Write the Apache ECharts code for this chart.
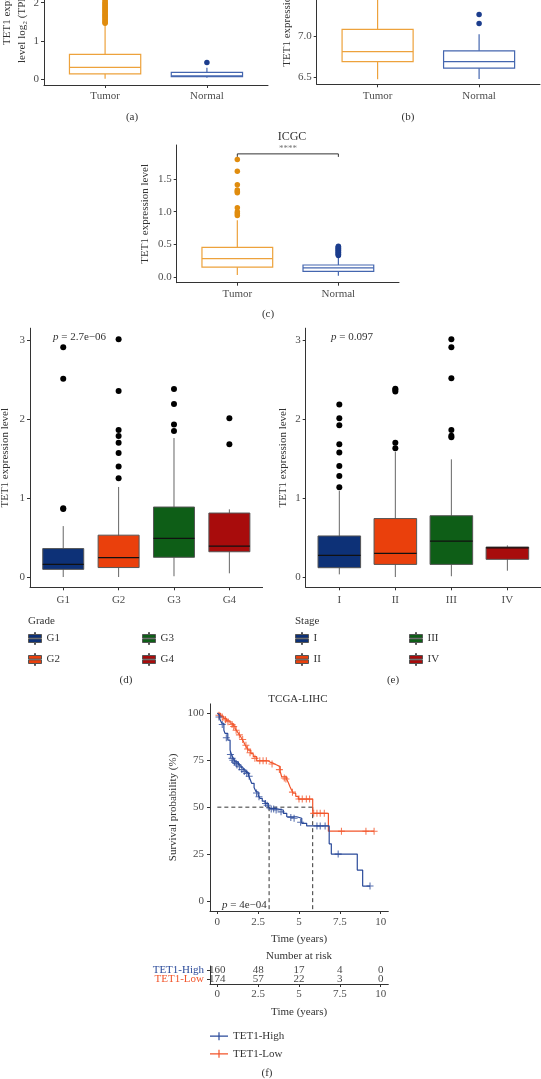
<!DOCTYPE html>
<html><head><meta charset="utf-8">
<script src="https://cdn.jsdelivr.net/npm/echarts@6/dist/echarts.min.js"></script>
<style>html,body{margin:0;padding:0;background:#fff}#c{width:541px;height:1079px}</style>
</head><body><div id="c"></div>
<script>
// ---------------- DATA ----------------
// box stats: [min whisker, Q1, median, Q3, max whisker]
const tnCategories = ['Tumor', 'Normal'];
const aTumor = [0.01, 0.14, 0.31, 0.65, 1.42];
const aNormal = [0.04, 0.07, 0.09, 0.18, 0.30];
const aTumorOut = [1.46, 1.49, 1.52, 1.55, 1.58, 1.61, 1.64, 1.67, 1.70, 1.73, 1.76, 1.79, 1.82, 1.85, 1.88, 1.91, 1.94, 1.97, 2.00, 2.04, 2.08, 2.12, 2.18, 2.25, 2.35, 2.45];
const aNormalOut = [0.44];
const aTicks = [0, 1, 2];

const bTumor = [6.476, 6.69, 6.81, 7.08, 7.58];
const bNormal = [6.48, 6.61, 6.69, 6.82, 7.02];
const bNormalOut = [7.15, 7.26];
const bTicks = [6.5, 7.0, 7.5];

const cTumor = [0.03, 0.15, 0.28, 0.455, 0.87];
const cNormal = [0.02, 0.085, 0.14, 0.184, 0.31];
const cTumorOut = [0.94, 0.97, 1.00, 1.06, 1.29, 1.31, 1.33, 1.41, 1.62, 1.80];
const cNormalOut = [0.33, 0.34, 0.35, 0.36, 0.37, 0.38, 0.39, 0.40, 0.41, 0.42, 0.43, 0.44, 0.45, 0.46, 0.47];
const cTicks = [0, 0.5, 1.0, 1.5];
const cBracket = [1.838, 1.884];

const gradeCats = ['G1', 'G2', 'G3', 'G4'];
const gradeBoxes = [
  [0.0, 0.097, 0.16, 0.36, 0.645],
  [0.0, 0.12, 0.245, 0.53, 1.14],
  [0.01, 0.25, 0.49, 0.886, 1.76],
  [0.047, 0.32, 0.39, 0.81, 0.857]
];
const gradeOut = [
  [0.86, 0.87, 2.51, 2.91],
  [1.25, 1.40, 1.57, 1.70, 1.785, 1.86, 2.355, 3.01],
  [1.85, 1.93, 2.19, 2.38],
  [1.68, 2.01]
];
const stageCats = ['I', 'II', 'III', 'IV'];
const stageBoxes = [
  [0.034, 0.118, 0.275, 0.52, 1.09],
  [0.0, 0.16, 0.30, 0.74, 1.585],
  [0.01, 0.16, 0.455, 0.776, 1.49],
  [0.08, 0.224, 0.37, 0.38, 0.40]
];
const stageOut = [
  [1.135, 1.28, 1.405, 1.575, 1.68, 1.92, 2.01, 2.185],
  [1.63, 1.70, 2.35, 2.37, 2.385],
  [1.77, 1.79, 1.86, 2.515, 2.91, 3.01],
  []
];
const deTicks = [0, 1, 2, 3];

// Kaplan-Meier steps [time (years), survival %]
const kmHigh = [[0,100],[0.06,99],[0.15,97],[0.27,94.7],[0.4,91],[0.47,89.3],[0.64,85.7],[0.78,80.4],[0.88,77.7],[1.0,75.5],[1.08,74.2],[1.29,72.5],[1.45,71],[1.59,69.8],[1.75,68.5],[1.9,67.1],[2.0,65],[2.1,62.7],[2.25,60.5],[2.37,58.2],[2.5,56.5],[2.61,54.7],[2.75,53.2],[2.92,52],[3.12,50.6],[3.17,49.4],[3.5,49],[3.74,48.5],[4.04,46.7],[4.25,44.9],[4.86,44.1],[5.17,41.4],[5.47,40],[6.85,30.5],[6.98,25],[8.57,16.5],[8.9,8],[9.35,8]];
const kmLow = [[0,100],[0.2,98.5],[0.37,97.3],[0.55,96],[0.78,94.7],[0.95,93.3],[1.08,92],[1.2,90.5],[1.29,89.3],[1.4,88],[1.49,86.6],[1.6,85],[1.7,83.1],[1.8,81.8],[1.9,80.4],[2.05,78.5],[2.2,76.9],[2.41,74.7],[3.1,74],[3.23,73.3],[3.45,72.5],[3.64,71.6],[3.85,69],[3.94,66.2],[4.25,64.8],[4.35,63],[4.45,60.9],[4.55,59],[4.65,57.4],[4.8,55.8],[4.96,54.3],[5.84,46.7],[6.8,37.2],[9.6,37.2]];
const kmHighCensor = [[0.1,98],[0.3,94],[0.55,87],[0.8,78],[0.9,76],[0.95,75],[1.05,74],[1.15,73.3],[1.2,72.5],[1.35,71.5],[1.5,70],[1.65,69],[1.8,68],[1.95,66.5],[2.4,57.5],[2.55,55.5],[2.95,52],[3.05,51],[3.3,49],[3.45,49],[3.6,48.5],[3.9,47.5],[4.5,44.5],[4.7,44.1],[5.1,42],[6.1,40],[6.3,40],[6.6,40],[7.4,25],[9.35,8]];
const kmLowCensor = [[0.1,99],[0.3,98],[0.5,96.5],[0.65,95.5],[0.9,94],[1.0,93],[1.15,91],[1.35,88.5],[1.55,86],[1.75,83],[1.85,81],[2.0,79],[2.3,76],[2.6,74.7],[2.8,74.7],[3.0,74.7],[3.35,73],[3.8,70],[4.1,65.5],[4.2,65],[4.6,58],[5.0,54.3],[5.2,54.3],[5.45,54.3],[5.65,54.3],[5.9,46.7],[6.1,46.7],[6.3,46.7],[6.55,46.7],[7.6,37.2],[9.1,37.2],[9.6,37.2]];
const kmMedians = [3.17, 5.84];
const kmTicksX = [0, 2.5, 5, 7.5, 10];
const kmTicksY = [0, 25, 50, 75, 100];
const riskGroups = ['TET1-Low', 'TET1-High'];
const riskTimes = [0, 2.5, 5, 7.5, 10];
const riskHigh = [160, 48, 17, 4, 0];
const riskLow = [174, 57, 22, 3, 0];

// ---------------- STYLE ----------------
const F = 'Liberation Serif';
const TICK = '#4d4d4d', AX = '#333', TXT = '#333';
const ORANGE = '#EDA23C', ORANGE_PT = '#E08C0E';
const BLUE = '#4466AF', BLUE_PT = '#1C3D8D';
const gradeColors = ['#0D3177', '#EA400C', '#0E5E17', '#A80C0C'];
const KM_BLUE = '#2A4A9A', KM_ORANGE = '#F2552B';

function xCat(gi, cats, margin) {
  const vals = cats.map((c, i) => i + 1);
  return {
    type: 'value', gridIndex: gi, min: 0.4, max: cats.length + 0.6,
    axisLine: { show: true, onZero: false, lineStyle: { color: AX, width: 1 } },
    axisTick: { show: true, customValues: vals, length: 3, lineStyle: { color: AX } },
    axisLabel: { customValues: vals, formatter: v => cats[Math.round(v) - 1] || '', color: TICK, fontFamily: F, fontSize: 11, margin: margin },
    splitLine: { show: false }
  };
}
function yVal(gi, min, max, ticks, fmt, name, gap) {
  return {
    type: 'value', gridIndex: gi, min: min, max: max,
    axisLine: { show: true, onZero: false, lineStyle: { color: AX, width: 1 } },
    axisTick: { show: true, customValues: ticks, length: 3, lineStyle: { color: AX } },
    axisLabel: { customValues: ticks, formatter: fmt, color: TICK, fontFamily: F, fontSize: 11, margin: 5 },
    splitLine: { show: false },
    name: name || '', nameLocation: 'middle', nameGap: gap || 20,
    nameTextStyle: { fontFamily: F, fontSize: 11, color: TXT }
  };
}
function boxSeries(name, gi, x, stats, st) {
  return {
    type: 'custom', name: name, xAxisIndex: gi, yAxisIndex: gi, z: 2, silent: true,
    itemStyle: { color: st.fill, borderColor: st.stroke, borderWidth: 1 },
    data: [[x].concat(stats)],
    encode: { x: 0, y: [1, 2, 3, 4, 5] },
    renderItem: function (params, api) {
      const xv = api.value(0);
      const lo = api.coord([xv, api.value(1)]);
      const q1 = api.coord([xv, api.value(2)]);
      const md = api.coord([xv, api.value(3)]);
      const q3 = api.coord([xv, api.value(4)]);
      const hi = api.coord([xv, api.value(5)]);
      const hw = api.size([st.width, 0])[0] / 2;
      return {
        type: 'group', children: [
          { type: 'line', shape: { x1: lo[0], y1: lo[1], x2: hi[0], y2: hi[1] }, style: { stroke: st.whisker, lineWidth: st.lw } },
          { type: 'rect', shape: { x: q3[0] - hw, y: q3[1], width: 2 * hw, height: q1[1] - q3[1] }, style: { fill: st.fill, stroke: st.stroke, lineWidth: st.lw } },
          { type: 'line', shape: { x1: md[0] - hw, y1: md[1], x2: md[0] + hw, y2: md[1] }, style: { stroke: st.median, lineWidth: st.mlw } }
        ]
      };
    }
  };
}
function outSeries(gi, x, vals, color, size) {
  return {
    type: 'scatter', xAxisIndex: gi, yAxisIndex: gi, z: 3, silent: true,
    symbolSize: size, itemStyle: { color: color, opacity: 1 },
    data: vals.map(v => [x, v])
  };
}

const series = [];
const tnStyle = (c) => ({ fill: '#fff', stroke: c, whisker: c, median: c, lw: 1.2, mlw: 1.2, width: 0.7 });
// (a)
series.push(boxSeries('a-Tumor', 0, 1, aTumor, tnStyle(ORANGE)));
series.push(boxSeries('a-Normal', 0, 2, aNormal, tnStyle(BLUE)));
series.push(outSeries(0, 1, aTumorOut, ORANGE_PT, 5.5));
series.push(outSeries(0, 2, aNormalOut, BLUE_PT, 5.5));
// (b)
series.push(boxSeries('b-Tumor', 1, 1, bTumor, tnStyle(ORANGE)));
series.push(boxSeries('b-Normal', 1, 2, bNormal, tnStyle(BLUE)));
series.push(outSeries(1, 2, bNormalOut, BLUE_PT, 5.5));
// (c)
series.push(boxSeries('c-Tumor', 2, 1, cTumor, tnStyle(ORANGE)));
series.push(boxSeries('c-Normal', 2, 2, cNormal, tnStyle(BLUE)));
series.push(outSeries(2, 1, cTumorOut, ORANGE_PT, 5.5));
series.push(outSeries(2, 2, cNormalOut, BLUE_PT, 5.5));
series.push({
  type: 'line', xAxisIndex: 2, yAxisIndex: 2, symbol: 'none', silent: true,
  lineStyle: { color: AX, width: 1 },
  data: [[1, cBracket[0]], [1, cBracket[1]], [2, cBracket[1]], [2, cBracket[0]]]
});
// (d) & (e)
const deStyle = (c, w) => ({ fill: c, stroke: '#555', whisker: '#666', median: '#111', lw: 1, mlw: 1.2, width: w });
gradeCats.forEach((g, i) => {
  series.push(boxSeries(g, 3, i + 1, gradeBoxes[i], deStyle(gradeColors[i], 0.74)));
  series.push(outSeries(3, i + 1, gradeOut[i], '#000', 6));
});
stageCats.forEach((s, i) => {
  series.push(boxSeries(s, 4, i + 1, stageBoxes[i], deStyle(gradeColors[i], 0.76)));
  series.push(outSeries(4, i + 1, stageOut[i], '#000', 6));
});
// (f) KM
const crossPath = 'path://M0,3.4L8,3.4L8,4.6L0,4.6Z M3.4,0L4.6,0L4.6,8L3.4,8Z';
const dash = (data) => ({ type: 'line', xAxisIndex: 5, yAxisIndex: 5, symbol: 'none', silent: true, lineStyle: { color: AX, width: 1, type: [4, 3] }, data: data, z: 1 });
series.push(dash([[0, 50], [kmMedians[1], 50]]));
series.push(dash([[kmMedians[0], 50], [kmMedians[0], -5.3]]));
series.push(dash([[kmMedians[1], 50], [kmMedians[1], -5.3]]));
series.push({ type: 'line', name: 'TET1-Low', xAxisIndex: 5, yAxisIndex: 5, step: 'end', showSymbol: false, symbol: 'none', silent: true, color: KM_ORANGE, lineStyle: { color: KM_ORANGE, width: 1.2 }, data: kmLow, z: 3 });
series.push({ type: 'line', name: 'TET1-High', xAxisIndex: 5, yAxisIndex: 5, step: 'end', showSymbol: false, symbol: 'none', silent: true, color: KM_BLUE, lineStyle: { color: KM_BLUE, width: 1.2 }, data: kmHigh, z: 4 });
series.push({ type: 'scatter', xAxisIndex: 5, yAxisIndex: 5, symbol: crossPath, symbolSize: 7, silent: true, itemStyle: { color: KM_ORANGE }, data: kmLowCensor, z: 3 });
series.push({ type: 'scatter', xAxisIndex: 5, yAxisIndex: 5, symbol: crossPath, symbolSize: 7, silent: true, itemStyle: { color: KM_BLUE }, data: kmHighCensor, z: 4 });
// risk table
const riskLabel = { show: true, position: 'inside', formatter: p => String(p.value[2]), color: '#111', fontFamily: F, fontSize: 11 };
series.push({ type: 'scatter', xAxisIndex: 6, yAxisIndex: 6, symbolSize: 1, silent: true, itemStyle: { color: 'rgba(0,0,0,0)' }, label: riskLabel, labelLayout: { hideOverlap: false }, data: riskTimes.map((t, i) => [t, 'TET1-High', riskHigh[i]]) });
series.push({ type: 'scatter', xAxisIndex: 6, yAxisIndex: 6, symbolSize: 1, silent: true, itemStyle: { color: 'rgba(0,0,0,0)' }, label: riskLabel, labelLayout: { hideOverlap: false }, data: riskTimes.map((t, i) => [t, 'TET1-Low', riskLow[i]]) });

const grids = [
  { left: 44, right: 273, top: -20.3, bottom: 994 },
  { left: 316.7, right: 1, top: -13.7, bottom: 994.7 },
  { left: 176.7, right: 142, top: 145, bottom: 796.3 },
  { left: 30, right: 278.4, top: 328.2, bottom: 491.7 },
  { left: 305.7, right: 0, top: 328.2, bottom: 491.7 },
  { left: 210, right: 152.7, top: 703.9, bottom: 168 },
  { left: 210, right: 152.7, top: 966, bottom: 95 }
].map(g => Object.assign({ outerBoundsMode: 'none', containLabel: false }, g));

const fmt1 = v => v.toFixed(1);
const fmtInt = v => String(v);
const xTime = (gi, name, margin) => ({
  type: 'value', gridIndex: gi, min: -0.45, max: 10.47,
  axisLine: { show: true, onZero: false, lineStyle: { color: AX, width: 1 } },
  axisTick: { show: true, customValues: kmTicksX, length: 3, lineStyle: { color: AX } },
  axisLabel: { customValues: kmTicksX, formatter: v => String(v), color: TICK, fontFamily: F, fontSize: 11, margin: margin },
  splitLine: { show: false },
  name: name, nameLocation: 'middle', nameGap: 23, nameTextStyle: { fontFamily: F, fontSize: 11, color: TXT }
});

const xAxes = [
  xCat(0, tnCategories, 6), xCat(1, tnCategories, 6), xCat(2, tnCategories, 6),
  xCat(3, gradeCats, 7), xCat(4, stageCats, 7),
  xTime(5, 'Time (years)', 6), xTime(6, 'Time (years)', 5)
];
const yAxes = [
  yVal(0, -0.15, 2.6, aTicks, fmtInt),
  yVal(1, 6.415, 7.6, bTicks, fmt1),
  yVal(2, -0.087, 2.02, cTicks, fmt1, 'TET1 expression level', 26),
  yVal(3, -0.13, 3.15, deTicks, fmtInt, 'TET1 expression level', 19),
  yVal(4, -0.13, 3.15, deTicks, fmtInt, 'TET1 expression level', 17),
  yVal(5, -5.3, 105, kmTicksY, fmtInt, 'Survival probability (%)', 31),
  {
    type: 'category', gridIndex: 6, data: riskGroups,
    axisLine: { show: true, onZero: false, lineStyle: { color: AX, width: 1 } },
    axisTick: { show: true, alignWithLabel: true, interval: 0, length: 3, lineStyle: { color: AX } },
    axisLabel: { interval: 0, hideOverlap: false, color: v => v === 'TET1-High' ? KM_BLUE : KM_ORANGE, fontFamily: F, fontSize: 11, margin: 6 },
    splitLine: { show: false }
  }
];
yAxes[5].axisLabel.margin = 6;

const boxIcon = 'path://M6,0L7,0L7,2L6,2Z M0,2L13,2L13,5.6L0,5.6Z M0,6.4L13,6.4L13,10L0,10Z M6,10L7,10L7,12L6,12Z';
const legBase = (data, left, top) => ({
  data: data, left: left, top: top, orient: 'vertical', padding: 0, itemGap: 8,
  itemWidth: 13, itemHeight: 12, icon: boxIcon, selectedMode: false,
  itemStyle: { borderColor: '#555', borderWidth: 1 },
  textStyle: { fontFamily: F, fontSize: 11, color: TXT }
});
const kmIcon = 'path://M0,4.4L18,4.4L18,5.6L0,5.6Z M8.4,1L9.6,1L9.6,9L8.4,9Z';
const legends = [
  legBase(['G1', 'G2'], 28, 632), legBase(['G3', 'G4'], 142, 632),
  legBase(['I', 'II'], 295, 632), legBase(['III', 'IV'], 409, 632),
  {
    data: ['TET1-High', 'TET1-Low'], left: 210, top: 1030.7, orient: 'vertical', padding: 0, itemGap: 6.6,
    itemWidth: 18, itemHeight: 10, icon: kmIcon, selectedMode: false,
    itemStyle: { borderWidth: 0 }, lineStyle: { width: 0 },
    textStyle: { fontFamily: F, fontSize: 11, color: TXT }
  }
];

const T = (text, x, y, opt) => Object.assign({
  type: 'text', x: x, y: y, silent: true,
  style: Object.assign({ text: text, fontFamily: F, fontSize: 11, fill: TXT, align: 'center', verticalAlign: 'middle' }, (opt && opt.style) || {})
}, opt && opt.rot ? { rotation: opt.rot } : {});
const pRich = { i: { fontStyle: 'italic', fontFamily: F, fontSize: 11, fill: TXT } };
const graphics = [
  T('TET1 expression', 7, 45, { rot: Math.PI / 2, style: { align: 'left' } }),
  T('level log\u2082 (TPM+1)', 22, 63, { rot: Math.PI / 2, style: { align: 'left' } }),
  T('TET1 expression level', 286.7, 66.7, { rot: Math.PI / 2, style: { align: 'left' } }),
  T('(a)', 132, 117), T('(b)', 408, 117),
  T('ICGC', 292, 137, { style: { fontSize: 12 } }),
  T('****', 288, 149, { style: { fontSize: 9, fill: '#777' } }),
  T('(c)', 268, 314),
  T('{i|p} = 2.7e\u221206', 53, 337, { style: { align: 'left', rich: pRich } }),
  T('{i|p} = 0.097', 331, 337, { style: { align: 'left', rich: pRich } }),
  T('Grade', 28, 621, { style: { align: 'left' } }),
  T('Stage', 295, 621, { style: { align: 'left' } }),
  T('(d)', 126, 680), T('(e)', 393, 680),
  T('TCGA-LIHC', 298, 699),
  T('{i|p} = 4e\u221204', 222, 905, { style: { align: 'left', rich: pRich } }),
  T('Number at risk', 299, 956),
  T('(f)', 267, 1073)
];

const chart = echarts.init(document.getElementById('c'), null, { renderer: 'canvas', width: 541, height: 1079 });
chart.setOption({
  backgroundColor: '#fff',
  animation: false,
  grid: grids,
  xAxis: xAxes,
  yAxis: yAxes,
  legend: legends,
  series: series,
  graphic: graphics
});
</script>
</body></html>
